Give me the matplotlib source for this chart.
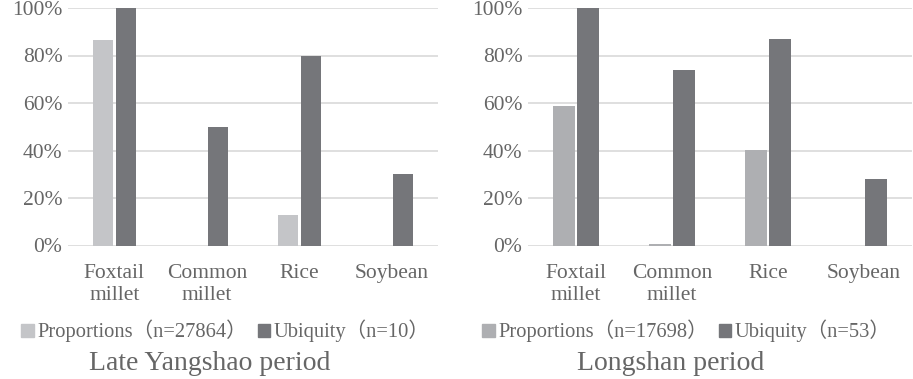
import matplotlib
matplotlib.use("Agg")
import matplotlib.pyplot as plt
import numpy as np
from matplotlib.patches import Patch
from matplotlib.ticker import PercentFormatter

CROPS = ["Foxtail\nmillet", "Common\nmillet", "Rice", "Soybean"]

# Late Yangshao period
ys_prop = [86.5, 0, 13, 0]
ys_ubiq = [100, 50, 80, 30]
ys_labels = ["Proportions\uff08n=27864\uff09", "Ubiquity\uff08n=10\uff09"]

# Longshan period
ls_prop = [58.6, 0.8, 40.2, 0]
ls_ubiq = [100, 73.8, 87.1, 28.1]
ls_labels = ["Proportions\uff08n=17698\uff09", "Ubiquity\uff08n=53\uff09"]

TITLES = ["Late Yangshao period", "Longshan period"]

FONT = ["Liberation Serif", "Noto Sans CJK SC"]
TXT = "#666666"
GRID = "#d9d9d9"
DARK = "#75767a"

W, H = 913, 379
fig = plt.figure(figsize=(W / 100, H / 100), dpi=100)


def px(x0, y_bottom, w, h):
    return [x0 / W, (H - y_bottom) / H, w / W, h / H]


panels = [
    (px(68, 245.5, 370, 237.5), ys_prop, ys_ubiq, ys_labels, "#c4c5c8", 13, 210),
    (px(528, 245.5, 384, 237.5), ls_prop, ls_ubiq, ls_labels, "#aeafb2", 474, 671),
]

x = np.arange(len(CROPS))
w = 0.22
for k, (rect, prop, ubiq, labels, light, leg_x, title_x) in enumerate(panels):
    ax = fig.add_axes(rect)
    ax.bar(x - 0.125, prop, w, color=light, zorder=3)
    ax.bar(x + 0.125, ubiq, w, color=DARK, zorder=3)
    ax.set_xlim(-0.5, 3.5)
    ax.set_ylim(0, 100)
    ax.set_yticks(np.arange(0, 101, 20))
    ax.yaxis.set_major_formatter(PercentFormatter(decimals=0))
    for s in ax.spines.values():
        s.set_visible(False)
    ax.grid(axis="y", color=GRID, lw=1.2, zorder=0)
    ax.set_axisbelow(True)
    ax.tick_params(length=0, pad=4, labelcolor=TXT, labelsize=15.5)
    for lab in ax.get_yticklabels():
        lab.set_family(FONT)
    ax.set_xticks(x)
    ax.set_xticklabels(CROPS, family=FONT, fontsize=15.5, color=TXT,
                       linespacing=1.25, va="top")
    ax.tick_params(axis="x", pad=13)

    handles = [Patch(color=light), Patch(color=DARK)]
    fig.legend(handles, labels, loc="center left",
               bbox_to_anchor=(leg_x / W, 1 - 331 / H),
               frameon=False, ncol=2, handlelength=0.6, handleheight=0.6,
               handletextpad=0.2, columnspacing=0.5, borderaxespad=0,
               prop={"family": FONT, "size": 14.8}, labelcolor=TXT)
    fig.text(title_x / W, 1 - 364 / H, TITLES[k], ha="center", va="center",
             family=FONT, fontsize=20, color=TXT)

fig.savefig("out.png", dpi=100)
